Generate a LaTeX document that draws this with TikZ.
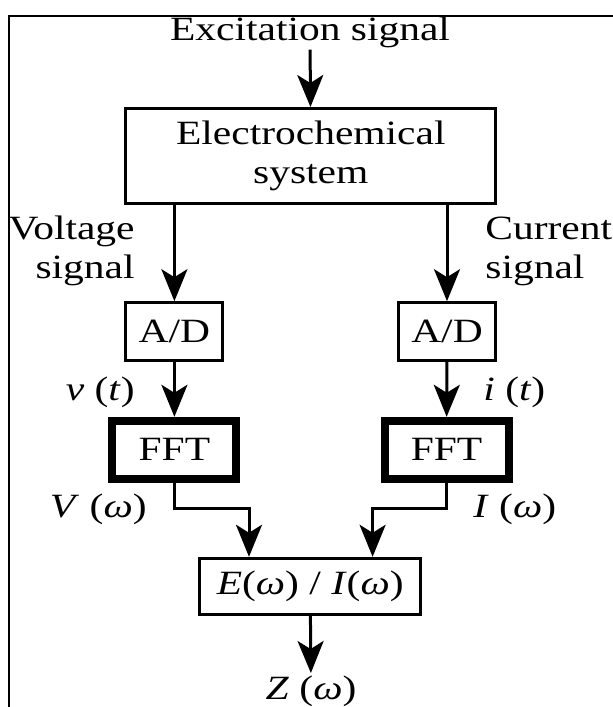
\documentclass[tikz,border=0pt]{standalone}
\usepackage{fontspec}
\setmainfont{Liberation Serif}[FakeStretch=1.22]
\usetikzlibrary{arrows.meta}

\begin{document}
\begin{tikzpicture}[x=0.5pt, y=-0.5pt,
    font=\fontsize{17}{19.5}\selectfont,
    blk/.style={draw, line width=1.5pt, inner sep=0pt, align=center},
    fftblk/.style={draw, line width=4pt, inner sep=0pt, minimum width=62pt, minimum height=29pt},
    lbl/.style={inner sep=1pt},
    flow/.style={-{Stealth[length=16pt, width=13pt, inset=4pt]}, line width=1.5pt}
  ]
    \useasboundingbox (0,0) rectangle (613,707);
    \clip (0,0) rectangle (613,707);
    \draw[line width=1pt] (9,16) rectangle (640,740);

    \node[lbl, anchor=base] (exc) at (310,40) {Excitation signal};
    \node[blk, minimum width=185pt, minimum height=47.5pt] (ecs) at (310.8,156) {Electrochemical\\system};

    \node[blk, minimum width=48.5pt, minimum height=29pt] (adl) at (174.4,331.7) {A/D};
    \node[blk, minimum width=48.5pt, minimum height=29pt] (adr) at (447,331.7) {A/D};

    \node[fftblk] (fftl) at (174.4,449.8) {FFT};
    \node[fftblk] (fftr) at (446.5,449.8) {FFT};

    \node[blk, minimum width=110.5pt, minimum height=28pt] (div) at (310.2,586.3) {\textit{E}(\textit{ω}) / \textit{I}(\textit{ω})};
    \node[lbl, anchor=base] (z) at (311,699) {\textit{Z} (\textit{ω})};

    \node[lbl, anchor=east, align=right, inner sep=0pt] (vsig) at (135,251) {Voltage\\signal};
    \node[lbl, anchor=west, align=left, inner sep=0pt] (csig) at (485,251) {Current\\signal};
    \node[lbl, anchor=base east] (vt) at (137,400) {\textit{v} (\textit{t})};
    \node[lbl, anchor=base west] (it) at (481,400) {\textit{i} (\textit{t})};
    \node[lbl, anchor=base east] (vw) at (149,517) {\textit{V} (\textit{ω})};
    \node[lbl, anchor=base west] (iw) at (471,517) {\textit{I} (\textit{ω})};

    \coordinate (inl) at (249,508);
    \coordinate (inr) at (372.6,508);

    \draw[flow] (exc) -- (ecs);
    \draw[flow] (ecs.south -| adl) -- (adl);
    \draw[flow] (ecs.south -| adr) -- (adr);
    \draw[flow] (adl) -- (fftl);
    \draw[flow] (adr) -- (fftr);
    \draw[flow] (fftl) |- (inl) -- (inl |- div.north);
    \draw[flow] (fftr) |- (inr) -- (inr |- div.north);
    \draw[flow] (div) -- (z);
  \end{tikzpicture}
\end{document}
